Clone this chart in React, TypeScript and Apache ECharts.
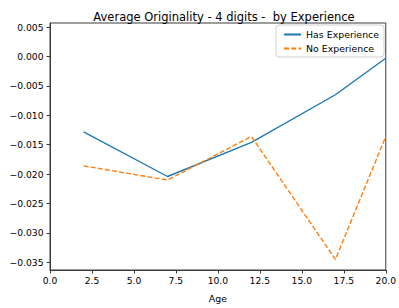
import React, { useEffect, useRef } from "react";
import * as echarts from "echarts";

const ages = [2, 7, 12, 17, 20];
const hasExperience = [-0.0128, -0.0204, -0.0146, -0.0065, -0.0003];
const noExperience = [-0.0186, -0.021, -0.0136, -0.0345, -0.0136];
const yTickValues = [0.005, 0, -0.005, -0.01, -0.015, -0.02, -0.025, -0.03, -0.035];
const titleText = "Average Originality - 4 digits -  by Experience";
const seriesNames = ["Has Experience", "No Experience"];

const FONT = "DejaVu Sans";

export default function App() {
  const ref = useRef<HTMLDivElement>(null);
  useEffect(() => {
    document.body.style.margin = "0";
    const chart = echarts.init(ref.current!, undefined, { renderer: "svg" });
    const spine = "#3a3a3a";
    chart.setOption({
      animation: false,
      backgroundColor: "#fff",
      textStyle: { fontFamily: FONT },
      title: {
        text: titleText,
        left: 219,
        textAlign: "center",
        top: 6,
        textStyle: { fontFamily: FONT, fontSize: 11.5, fontWeight: "normal", color: "#000" },
      },
      legend: {
        orient: "vertical",
        right: 15,
        top: 25,
        itemWidth: 17,
        itemHeight: 10,
        itemGap: 5,
        padding: [5, 5, 4, 7],
        backgroundColor: "#fff",
        borderColor: "#d0d0d0",
        borderWidth: 1,
        borderRadius: 3,
        itemStyle: { opacity: 0 },
        textStyle: { fontFamily: FONT, fontSize: 9.4, color: "#000" },
        data: seriesNames,
      },
      grid: {
        left: 50,
        right: 11,
        top: 23,
        bottom: 34,
        show: true,
        borderColor: spine,
        borderWidth: 1,
        backgroundColor: "transparent",
      },
      xAxis: {
        type: "value",
        min: 0,
        max: 20,
        interval: 2.5,
        name: "Age",
        nameLocation: "middle",
        nameGap: 24,
        nameTextStyle: { fontFamily: FONT, fontSize: 9.4, color: "#000" },
        axisLine: { show: true, onZero: false, lineStyle: { color: spine, width: 1 } },
        axisTick: { show: true, length: 3.5, lineStyle: { color: spine } },
        axisLabel: {
          margin: 6,
          fontFamily: FONT,
          fontSize: 9.2,
          color: "#000",
          formatter: (v: number) => v.toFixed(1),
        },
        splitLine: { show: false },
      },
      yAxis: {
        type: "value",
        min: -0.0363,
        max: 0.0057,
        axisLine: { show: true, onZero: false, lineStyle: { color: spine, width: 1 } },
        axisTick: { show: true, length: 3.5, lineStyle: { color: spine }, customValues: yTickValues },
        axisLabel: {
          margin: 6.5,
          fontFamily: FONT,
          fontSize: 9.2,
          color: "#000",
          customValues: yTickValues,
          formatter: (v: number) => {
            const s = Math.abs(v).toFixed(3);
            return v < -1e-9 ? "\u2212" + s : s;
          },
        },
        splitLine: { show: false },
      },
      series: [
        {
          name: seriesNames[0],
          type: "line",
          data: ages.map((a, i) => [a, hasExperience[i]]),
          symbol: "none",
          color: "#1f77b4",
          lineStyle: { color: "#1f77b4", width: 1.4 },
        },
        {
          name: seriesNames[1],
          type: "line",
          data: ages.map((a, i) => [a, noExperience[i]]),
          symbol: "none",
          color: "#ff7f0e",
          lineStyle: { color: "#ff7f0e", width: 1.4, type: [5, 2.2] },
        },
      ],
    });
    return () => chart.dispose();
  }, []);
  return <div ref={ref} style={{ width: 399, height: 308 }} />;
}
